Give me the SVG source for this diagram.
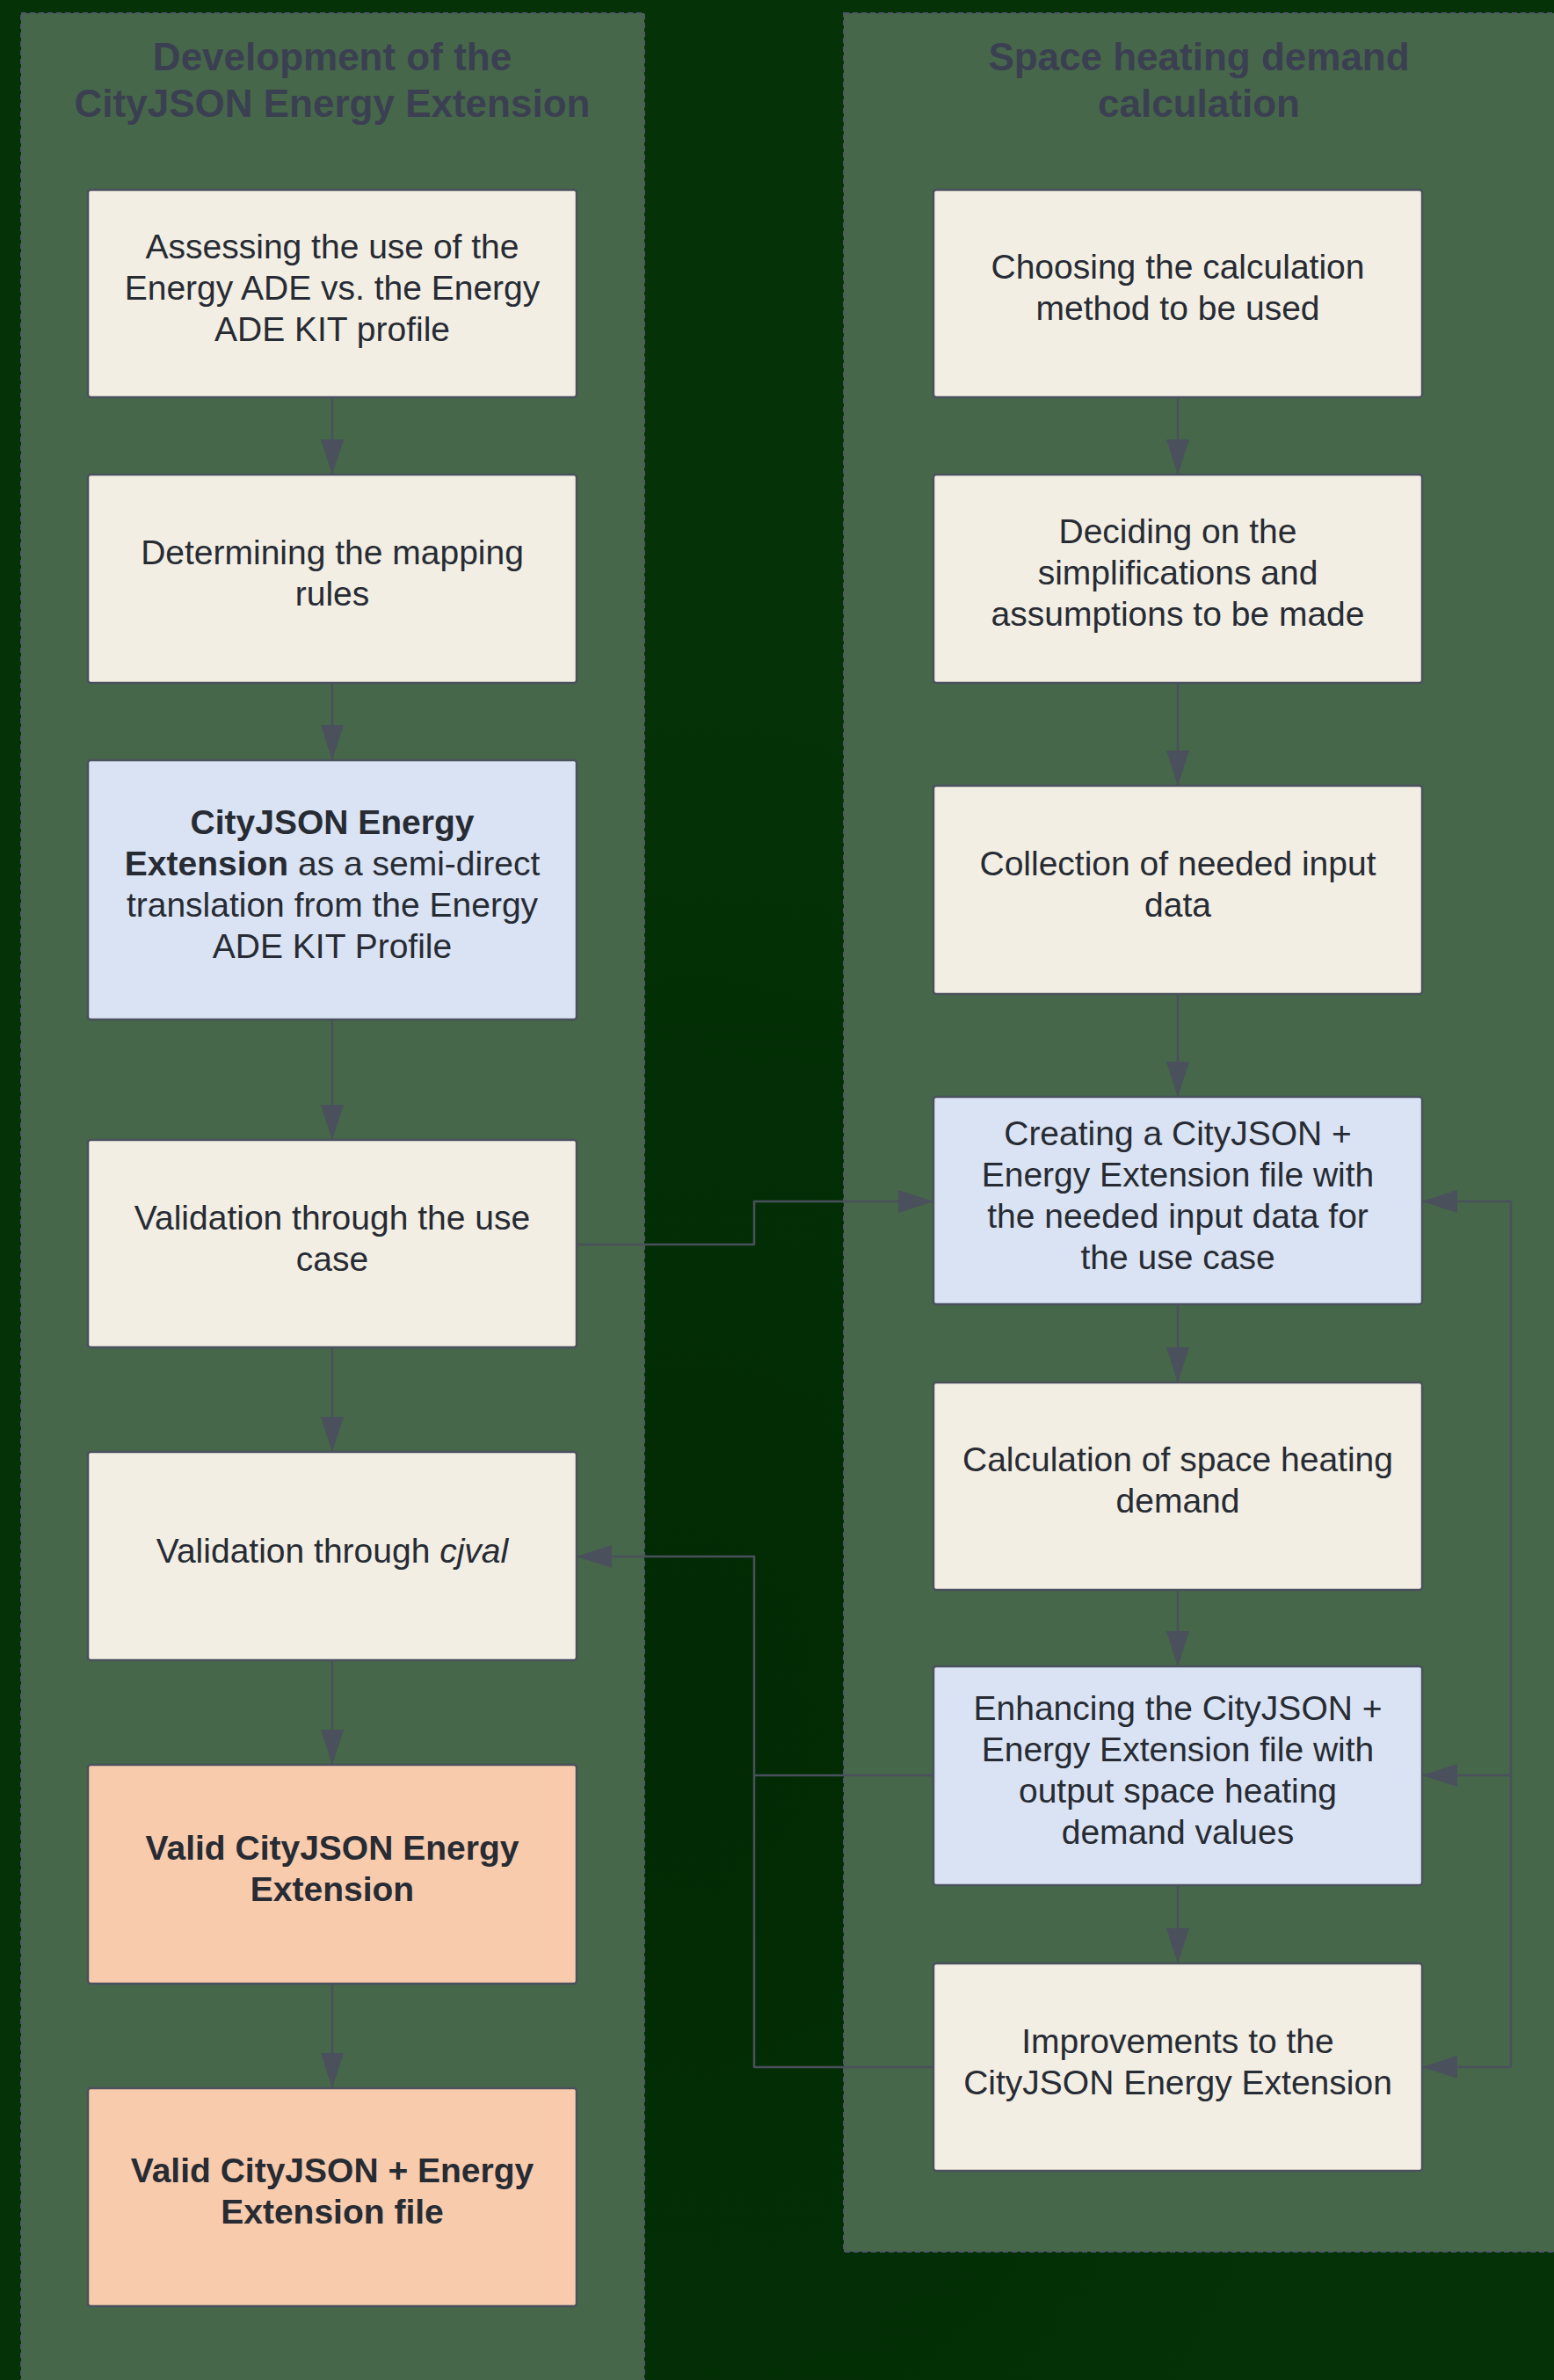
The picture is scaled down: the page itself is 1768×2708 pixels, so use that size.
<svg xmlns="http://www.w3.org/2000/svg" width="1768" height="2708" viewBox="0 0 1768 2708">
  <defs>
    <marker id="arrow" markerUnits="userSpaceOnUse" markerWidth="40" markerHeight="26" refX="40" refY="13" orient="auto">
      <path d="M0,0 L40,13 L0,26 z" fill="#4a505c"/>
    </marker>
    <radialGradient id="bgGlow" cx="0.45" cy="0.72" r="0.5">
      <stop offset="0" stop-color="#022a04"/>
      <stop offset="1" stop-color="#053307"/>
    </radialGradient>
    <style>
      .container { fill: #46674a; stroke: #50566a; stroke-width: 2; stroke-dasharray: 6 4; }
      .title { font-family: "Liberation Sans", Arial, sans-serif; font-size: 44px; font-weight: bold; fill: #3b3f52; text-anchor: middle; }
      .node rect { stroke: #4a505c; stroke-width: 2.5; }
      .beige { fill: #f2eee3; }
      .blue { fill: #dae3f3; }
      .peach { fill: #f8cbad; }
      .label { font-family: "Liberation Sans", Arial, sans-serif; font-size: 39px; fill: #272b33; text-anchor: middle; }
      .b { font-weight: bold; }
      .i { font-style: italic; }
      .conn path { fill: none; stroke: #4a505c; stroke-width: 2.5; stroke-linejoin: round; }
    </style>
  </defs>

  <rect x="0" y="0" width="1768" height="2708" fill="url(#bgGlow)"/>

  <g id="container-left">
    <rect class="container" x="24" y="15" width="709" height="2720"/>
    <text class="title" x="378" y="80">Development of the</text>
    <text class="title" x="378" y="133">CityJSON Energy Extension</text>
  </g>
  <g id="container-right">
    <rect class="container" x="960" y="15" width="830" height="2547"/>
    <text class="title" x="1364" y="80">Space heating demand</text>
    <text class="title" x="1364" y="133">calculation</text>
  </g>

  <g id="connectors" class="conn">
    <path d="M378,452 L378,540" marker-end="url(#arrow)"/>
    <path d="M378,777 L378,865" marker-end="url(#arrow)"/>
    <path d="M378,1160 L378,1297" marker-end="url(#arrow)"/>
    <path d="M378,1533 L378,1652" marker-end="url(#arrow)"/>
    <path d="M378,1889 L378,2008" marker-end="url(#arrow)"/>
    <path d="M378,2257 L378,2376" marker-end="url(#arrow)"/>

    <path d="M1340,452 L1340,540" marker-end="url(#arrow)"/>
    <path d="M1340,777 L1340,894" marker-end="url(#arrow)"/>
    <path d="M1340,1131 L1340,1248" marker-end="url(#arrow)"/>
    <path d="M1340,1484 L1340,1573" marker-end="url(#arrow)"/>
    <path d="M1340,1809 L1340,1896" marker-end="url(#arrow)"/>
    <path d="M1340,2145 L1340,2234" marker-end="url(#arrow)"/>

    <path d="M656,1416 L858,1416 L858,1367 L1062,1367" marker-end="url(#arrow)"/>
    <path d="M1062,2352 L858,2352 L858,1771 L656,1771" marker-end="url(#arrow)"/>
    <path d="M1062,2020 L858,2020"/>

    <path d="M1719,2352 L1719,1367 L1618,1367" marker-end="url(#arrow)"/>
    <path d="M1719,2020 L1618,2020" marker-end="url(#arrow)"/>
    <path d="M1719,2352 L1618,2352" marker-end="url(#arrow)"/>
  </g>

  <g id="node-assessing" class="node">
    <rect class="beige" x="100" y="216" width="556" height="236" rx="3"/>
    <text class="label" x="378" y="294">Assessing the use of the</text>
    <text class="label" x="378" y="341">Energy ADE vs. the Energy</text>
    <text class="label" x="378" y="388">ADE KIT profile</text>
  </g>
  <g id="node-mapping" class="node">
    <rect class="beige" x="100" y="540" width="556" height="237" rx="3"/>
    <text class="label" x="378" y="642">Determining the mapping</text>
    <text class="label" x="378" y="689">rules</text>
  </g>
  <g id="node-extension" class="node">
    <rect class="blue" x="100" y="865" width="556" height="295" rx="3"/>
    <text class="label" x="378" y="949"><tspan class="b">CityJSON Energy</tspan></text>
    <text class="label" x="378" y="996"><tspan class="b">Extension</tspan> as a semi-direct</text>
    <text class="label" x="378" y="1043">translation from the Energy</text>
    <text class="label" x="378" y="1090">ADE KIT Profile</text>
  </g>
  <g id="node-usecase" class="node">
    <rect class="beige" x="100" y="1297" width="556" height="236" rx="3"/>
    <text class="label" x="378" y="1399">Validation through the use</text>
    <text class="label" x="378" y="1446">case</text>
  </g>
  <g id="node-cjval" class="node">
    <rect class="beige" x="100" y="1652" width="556" height="237" rx="3"/>
    <text class="label" x="378" y="1778">Validation through <tspan class="i">cjval</tspan></text>
  </g>
  <g id="node-valid-ext" class="node">
    <rect class="peach" x="100" y="2008" width="556" height="249" rx="3"/>
    <text class="label b" x="378" y="2116">Valid CityJSON Energy</text>
    <text class="label b" x="378" y="2163">Extension</text>
  </g>
  <g id="node-valid-file" class="node">
    <rect class="peach" x="100" y="2376" width="556" height="248" rx="3"/>
    <text class="label b" x="378" y="2483">Valid CityJSON + Energy</text>
    <text class="label b" x="378" y="2530">Extension file</text>
  </g>

  <g id="node-method" class="node">
    <rect class="beige" x="1062" y="216" width="556" height="236" rx="3"/>
    <text class="label" x="1340" y="317">Choosing the calculation</text>
    <text class="label" x="1340" y="364">method to be used</text>
  </g>
  <g id="node-simplifications" class="node">
    <rect class="beige" x="1062" y="540" width="556" height="237" rx="3"/>
    <text class="label" x="1340" y="618">Deciding on the</text>
    <text class="label" x="1340" y="665">simplifications and</text>
    <text class="label" x="1340" y="712">assumptions to be made</text>
  </g>
  <g id="node-input" class="node">
    <rect class="beige" x="1062" y="894" width="556" height="237" rx="3"/>
    <text class="label" x="1340" y="996">Collection of needed input</text>
    <text class="label" x="1340" y="1043">data</text>
  </g>
  <g id="node-create-file" class="node">
    <rect class="blue" x="1062" y="1248" width="556" height="236" rx="3"/>
    <text class="label" x="1340" y="1303">Creating a CityJSON +</text>
    <text class="label" x="1340" y="1350">Energy Extension file with</text>
    <text class="label" x="1340" y="1397">the needed input data for</text>
    <text class="label" x="1340" y="1444">the use case</text>
  </g>
  <g id="node-calculation" class="node">
    <rect class="beige" x="1062" y="1573" width="556" height="236" rx="3"/>
    <text class="label" x="1340" y="1674">Calculation of space heating</text>
    <text class="label" x="1340" y="1721">demand</text>
  </g>
  <g id="node-enhance" class="node">
    <rect class="blue" x="1062" y="1896" width="556" height="249" rx="3"/>
    <text class="label" x="1340" y="1957">Enhancing the CityJSON +</text>
    <text class="label" x="1340" y="2004">Energy Extension file with</text>
    <text class="label" x="1340" y="2051">output space heating</text>
    <text class="label" x="1340" y="2098">demand values</text>
  </g>
  <g id="node-improvements" class="node">
    <rect class="beige" x="1062" y="2234" width="556" height="236" rx="3"/>
    <text class="label" x="1340" y="2336">Improvements to the</text>
    <text class="label" x="1340" y="2383">CityJSON Energy Extension</text>
  </g>
</svg>
